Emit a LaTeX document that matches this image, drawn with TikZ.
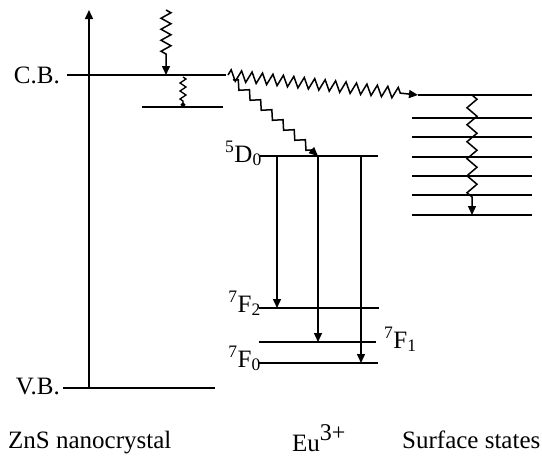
\documentclass[tikz,border=0pt]{standalone}
\usepackage{fontspec}
\setmainfont{Liberation Serif}
\usetikzlibrary{arrows.meta,decorations.pathmorphing}

\begin{document}
\begin{tikzpicture}[x=1pt, y=-1pt,
  lvl/.style={line width=1.8pt},
  trans/.style={line width=1.5pt, -{Triangle[length=9pt,width=8pt]}},
  wavy/.style={trans, decorate},
  lbl/.style={font=\fontsize{25}{28}\selectfont, inner sep=0pt}]
\useasboundingbox (0,0) rectangle (542,458);
% ZnS nanocrystal
\coordinate (axB) at (89,388);
\coordinate (axT) at (89,10);
\coordinate (cbL) at (67,75);
\coordinate (cbR) at (226,75);
\coordinate (trL) at (142,107);
\coordinate (trR) at (223,107);
\coordinate (vbL) at (63,388);
\coordinate (vbR) at (215,388);
\coordinate (exc) at (166,10);
\coordinate (cbIn) at (166,75);
\coordinate (cbTop) at (183,77);
\coordinate (trIn) at (183,107);
\draw[trans] (axB) -- (axT);
\draw[lvl] (cbL) -- (cbR);
\draw[lvl] (trL) -- (trR);
\draw[lvl] (vbL) -- (vbR);
\node[lbl, anchor=base east] (cb) at (60,83) {C.B.};
\node[lbl, anchor=base east] (vb) at (60,394) {V.B.};
\draw[wavy, decoration={zigzag, segment length=11pt, amplitude=5pt, post length=19pt}] (exc) -- (cbIn);
\draw[line width=1.3pt, decorate, decoration={zigzag, segment length=8pt, amplitude=3pt, post length=3pt}, -{Circle[length=4.5pt]}] (cbTop) -- (trIn);
% Eu3+ levels
\coordinate (dL) at (260,156);
\coordinate (dR) at (378,156);
\draw[lvl] (dL) -- (dR);
\foreach \n/\y/\r in {fb/308/379, fa/342/376, fz/363/378} {
  \coordinate (\n L) at (259,\y);
  \coordinate (\n R) at (\r,\y);
  \draw[lvl] (\n L) -- (\n R);
}
\coordinate (dA) at (277,156);
\coordinate (dB) at (318,156);
\coordinate (dC) at (361,156);
\draw[trans] (dA) -- (dA |- fbL);
\draw[trans] (dB) -- (dB |- faL);
\draw[trans] (dC) -- (dC |- fzL);
\node[lbl, anchor=base east] (d0) at (262,162) {\textsuperscript{5}D\textsubscript{0}};
\node[lbl, anchor=base east] (f2) at (261,312) {\textsuperscript{7}F\textsubscript{2}};
\node[lbl, anchor=base west] (f1) at (384,348) {\textsuperscript{7}F\textsubscript{1}};
\node[lbl, anchor=base east] (f0) at (261,367) {\textsuperscript{7}F\textsubscript{0}};
% surface states
\foreach \y/\l [count=\i] in {95/418, 118/412, 137/412, 157/412, 176/412, 195/412, 215/412} {
  \coordinate (sL\i) at (\l,\y);
  \coordinate (sR\i) at (532,\y);
  \draw[lvl] (sL\i) -- (sR\i);
}
\coordinate (sTop) at (472,95);
\coordinate (sBot) at (472,215);
\draw[wavy, decoration={zigzag, segment length=17pt, amplitude=5pt, post length=18pt}] (sTop) -- (sBot);
% transfers from the conduction band
\coordinate (cbOut) at (228,75);
\coordinate (cbStep) at (233,80);
\draw[wavy, decoration={zigzag, segment length=10.5pt, amplitude=5.5pt, post length=14pt}] (cbOut) -- (sL1);
\draw[wavy, decoration={zigzag, segment length=15pt, amplitude=3.75pt, post length=6pt}] (cbStep) -- (dB);
% captions
\node[lbl, anchor=base west] (zns) at (8,448) {ZnS nanocrystal};
\node[lbl, anchor=base west] (eu) at (292,451) {Eu\raisebox{11pt}{\fontsize{24}{26}\selectfont 3+}};
\node[lbl, anchor=base west] (surf) at (402,448) {Surface states};
\end{tikzpicture}
\end{document}
